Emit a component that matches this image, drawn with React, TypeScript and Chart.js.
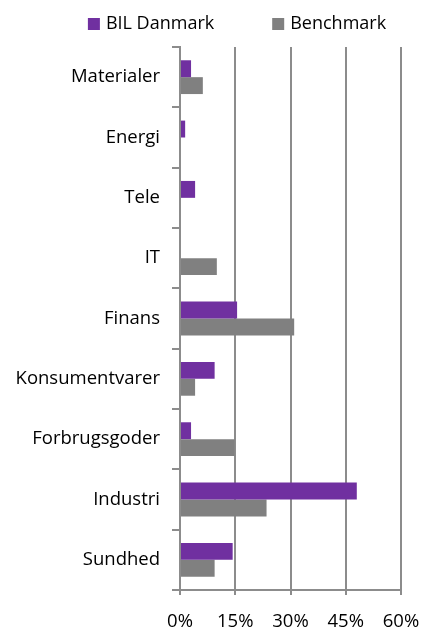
import React, { useEffect, useRef } from "react";
import { Chart, registerables } from "chart.js";

Chart.register(...registerables);

const categories = [
  "Materialer",
  "Energi",
  "Tele",
  "IT",
  "Finans",
  "Konsumentvarer",
  "Forbrugsgoder",
  "Industri",
  "Sundhed",
];
const bilDanmark = [3.0, 1.4, 4.1, 0, 15.5, 9.4, 3.0, 48.0, 14.3];
const benchmark = [6.2, 0, 0, 10.0, 31.0, 4.1, 14.8, 23.5, 9.4];
const seriesNames = ["BIL Danmark", "Benchmark"];
const seriesColors = ["#7030A0", "#808080"];
const xMin = 0;
const xMax = 60;
const xStep = 15;

const FONT = '"Open Sans", "Liberation Sans", sans-serif';

const legendPlugin = {
  id: "customLegend",
  afterDraw(chart: any) {
    const ctx = chart.ctx;
    const datasets = chart.data.datasets;
    ctx.save();
    ctx.font = `18px ${FONT}`;
    ctx.textBaseline = "middle";
    ctx.textAlign = "left";
    const box = 12;
    const gap = 6;
    const spacing = 58;
    const widths = datasets.map((d: any) => box + gap + ctx.measureText(d.label).width);
    const total = widths.reduce((a: number, b: number) => a + b, 0) + spacing * (datasets.length - 1);
    let x = 237 - total / 2;
    const cy = 24;
    datasets.forEach((d: any, i: number) => {
      ctx.fillStyle = d.backgroundColor;
      ctx.fillRect(x, cy - box / 2, box, box);
      ctx.fillStyle = "#000";
      ctx.fillText(d.label, x + box + gap, cy);
      x += widths[i] + spacing;
    });
    ctx.restore();
  },
};

export default function App() {
  const canvasRef = useRef<HTMLCanvasElement | null>(null);

  useEffect(() => {
    if (!canvasRef.current) return;
    const chart = new Chart(canvasRef.current, {
      type: "bar",
      data: {
        labels: categories,
        datasets: [
          {
            label: seriesNames[0],
            data: bilDanmark,
            backgroundColor: seriesColors[0],
            borderWidth: 0,
          },
          {
            label: seriesNames[1],
            data: benchmark,
            backgroundColor: seriesColors[1],
            borderWidth: 0,
          },
        ],
      },
      options: {
        indexAxis: "y",
        responsive: true,
        maintainAspectRatio: false,
        animation: false,
        layout: { padding: { top: 47, right: 26, left: 0, bottom: 0 } },
        datasets: {
          bar: { categoryPercentage: 0.56, barPercentage: 1.0 },
        },
        plugins: {
          legend: { display: false },
          tooltip: { enabled: false },
        },
        scales: {
          x: {
            type: "linear",
            min: xMin,
            max: xMax,
            ticks: {
              stepSize: xStep,
              callback: (v: any) => `${v}%`,
              font: { family: FONT, size: 18.5 },
              color: "#000",
              padding: 16,
              maxRotation: 0,
            },
            grid: {
              color: "#8c8c8c",
              lineWidth: 2,
              drawTicks: true,
              tickLength: 5,
              tickColor: "#8c8c8c",
            },
            border: { display: true, color: "#8c8c8c", width: 2 },
            afterFit: (scale: any) => {
              scale.height = 38;
              scale.paddingLeft = 0;
              scale.paddingRight = 0;
            },
          },
          y: {
            type: "category",
            ticks: {
              font: { family: FONT, size: 18.5 },
              color: "#000",
              padding: 12,
            },
            grid: {
              drawOnChartArea: false,
              drawTicks: true,
              tickLength: 8,
              color: "#8c8c8c",
              lineWidth: 2,
            },
            border: { display: true, color: "#8c8c8c", width: 2 },
            afterFit: (scale: any) => {
              scale.width = 180;
              scale.paddingTop = 0;
              scale.paddingBottom = 0;
            },
          },
        },
      },
      plugins: [legendPlugin],
    });
    return () => chart.destroy();
  }, []);

  return (
    <div style={{ position: "fixed", left: 0, top: 0, width: 427, height: 628, background: "#fff" }}>
      <canvas ref={canvasRef} />
    </div>
  );
}
